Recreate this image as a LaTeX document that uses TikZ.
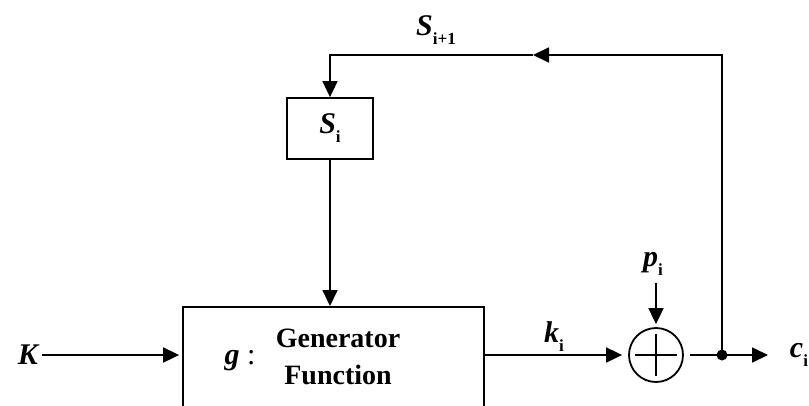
\documentclass[tikz,border=0pt]{standalone}
\usepackage{fontspec}
\setmainfont{Liberation Serif}
\usetikzlibrary{arrows.meta}
\newcommand{\lab}[2]{{\bfseries\itshape #1}\raisebox{-0.3em}{\fontsize{17}{17}\selectfont\bfseries #2}}
\begin{document}
\begin{tikzpicture}[x=1pt,y=-1pt,
  line width=1.8pt,
  tip/.style={-{Triangle[length=16pt,width=15pt]}},
  box/.style={draw, inner sep=0pt},
  lbl/.style={inner sep=1pt, font=\fontsize{30}{32}\selectfont}]
\useasboundingbox (0,0) rectangle (809,405);
\fill[white] (0,0) rectangle (809,405);
% blocks
\node[box, minimum width=86pt, minimum height=61pt, lbl] (si) at (330,128.5) {\lab{S}{i}};
\node[box, minimum width=301pt, minimum height=140pt, anchor=north] (gen) at (333.5,306) {};
\node[circle, draw, minimum size=54pt, inner sep=0pt] (xor) at (656,355) {};
\draw (xor.center) ++(-21,0) -- ++(42,0);
\draw (xor.center) ++(0,-21) -- ++(0,42);
% texts
\node[lbl] (g) at (240,361) {{\bfseries\itshape g} :};
\node[lbl, align=center, font=\fontsize{28}{37}\selectfont\bfseries] (gf) at (338,357) {Generator\\Function};
\node[lbl] (K) at (28,355) {{\bfseries\itshape K}};
\node[lbl] (ki) at (554,337) {\lab{k}{i}};
\node[lbl] (pi) at (653,264) {\lab{p}{i}};
\node[lbl] (ci) at (799,355) {\lab{c}{i}};
\node[lbl] (s1) at (436,30) {\lab{S}{i+1}};
% coordinates
\coordinate (dot) at (722,355);
\coordinate (tr) at (722,55);
\coordinate (tl) at (330,55);
\coordinate (mid) at (533,55);
\coordinate (cin) at (768,355);
\coordinate (ptop) at (656,283);
\coordinate (kst) at (42,355);
% connectors
\draw[tip, shorten >=3pt] (kst) -- (gen.west |- K.east);
\draw[tip, shorten >=6pt] (gen.east |- xor.west) -- (xor.west);
\draw[tip, shorten >=3pt] (ptop) -- (xor.north);
\draw[tip, shorten <=6pt] (xor.east) -- (cin);
\fill (dot) circle (5.5pt);
\draw[tip] (dot) -- (tr) -- (mid);
\draw[tip] (mid) -- (tl) -- (si.north);
\draw[tip] (si.south) -- (gen.north -| si.south);
\end{tikzpicture}
\end{document}
